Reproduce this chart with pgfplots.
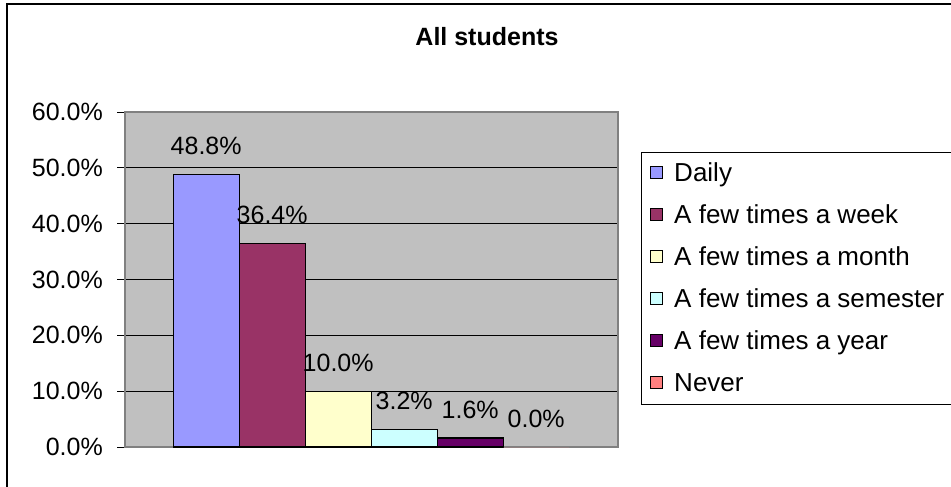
\documentclass[border=0pt]{standalone}
\usepackage{fontspec}
\setmainfont{Liberation Sans}
\usepackage{pgfplots}
\pgfplotsset{compat=1.18}

\definecolor{cDaily}{HTML}{9999FF}
\definecolor{cWeek}{HTML}{993366}
\definecolor{cMonth}{HTML}{FFFFCC}
\definecolor{cSem}{HTML}{CCFFFF}
\definecolor{cYear}{HTML}{660066}
\definecolor{cNever}{HTML}{FF8080}
\definecolor{plotgray}{HTML}{C0C0C0}
\definecolor{framegray}{HTML}{808080}

\newcommand{\chartfont}{\fontsize{25bp}{30bp}\selectfont}

\begin{document}
\begin{tikzpicture}
\useasboundingbox (0bp,0bp) rectangle (951bp,-487bp);
\clip (0bp,0bp) rectangle (951bp,-487bp);
\fill[white] (0bp,0bp) rectangle (951bp,-487bp);

\node[anchor=base, font=\bfseries\chartfont] at (487bp,-45bp) {All students};

\begin{axis}[
    at={(125bp,-447bp)}, anchor=south west,
    scale only axis, width=493bp, height=335bp,
    xmin=-0.23, xmax=7.24,
    ymin=0, ymax=60,
    xtick=\empty,
    ytick={0,10,...,60},
    ytick pos=left,
    tick align=outside,
    major tick length=8bp,
    ytick style={black, line width=1bp},
    /pgf/number format/assume math mode=true,
    yticklabel={\pgfmathprintnumber[fixed,fixed zerofill,precision=1]{\tick}\%},
    yticklabel style={font=\chartfont, anchor=east, inner sep=0pt, xshift=-14bp},
    ymajorgrids=true,
    major grid style={black, line width=1bp},
    axis line style={framegray, line width=1.5bp},
    axis background/.style={fill=plotgray},
    clip=false,
    legend style={
        at={(1.0467,0.8806)}, anchor=north west,
        draw=none, fill=none,
        inner xsep=9bp, inner ysep=11bp,
        row sep=24bp, column sep=11bp,
        font=\fontsize{26bp}{31bp}\selectfont,
        cells={anchor=west},
        nodes={inner sep=0pt, text height=18bp, text depth=0bp},
    },
    mybar/.style={
        ybar, bar width=1, bar shift=0pt,
        fill=#1, draw=black, line width=1.2bp,
        legend image code/.code={\draw[##1, draw=black, line width=1bp] (0bp,-6bp) rectangle (12bp,6bp);},
        nodes near coords={\pgfmathprintnumber[fixed,fixed zerofill,precision=1]{\pgfplotspointmeta}\%},
        every node near coord/.append style={font=\chartfont, text=black, anchor=base, inner sep=0pt, yshift=20bp},
    },
]
\addplot[mybar=cDaily] coordinates {(1,48.8)};
\addlegendentry{Daily}
\addplot[mybar=cWeek] coordinates {(2,36.4)};
\addlegendentry{A few times a week}
\addplot[mybar=cMonth] coordinates {(3,10.0)};
\addlegendentry{A few times a month}
\addplot[mybar=cSem] coordinates {(4,3.2)};
\addlegendentry{A few times a semester}
\addplot[mybar=cYear] coordinates {(5,1.6)};
\addlegendentry{A few times a year}
\addplot[mybar=cNever, draw=none] coordinates {(6,0.0)};
\addlegendentry{Never}
\end{axis}

\draw[line width=1bp] (641bp,-152bp) rectangle (1000bp,-404bp);
\draw[line width=1.5bp] (7bp,-500bp) -- (7bp,-4bp) -- (1000bp,-4bp);
\end{tikzpicture}
\end{document}
